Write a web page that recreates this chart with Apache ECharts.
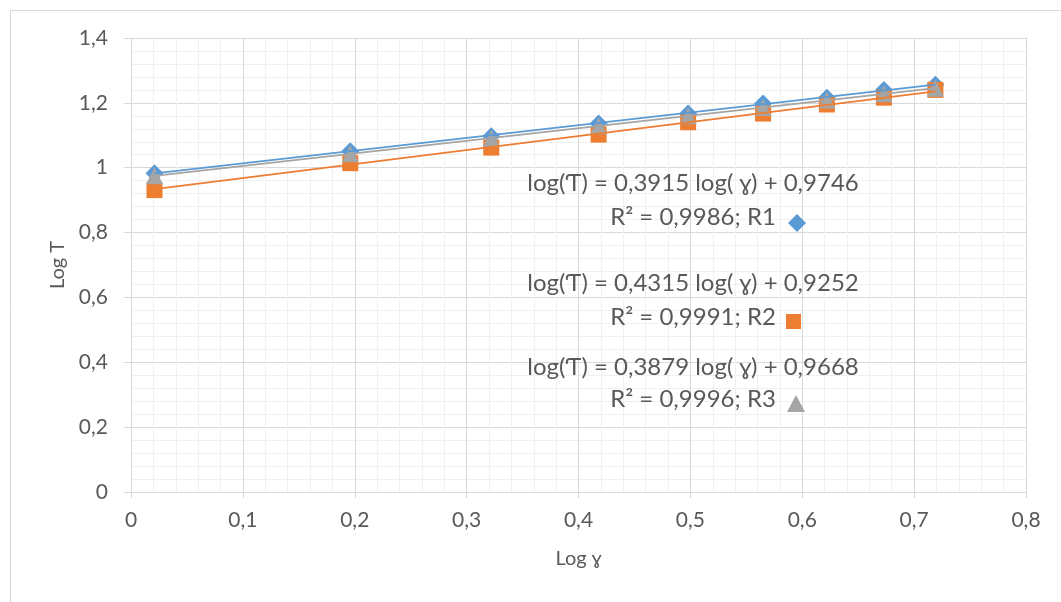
<!DOCTYPE html>
<html>
<head>
<meta charset="utf-8">
<script src="https://cdn.jsdelivr.net/npm/echarts@6/dist/echarts.min.js"></script>
<style>
html,body{margin:0;padding:0;background:#fff;}
#chart{width:1061px;height:602px;}
</style>
</head>
<body>
<div id="chart"></div>
<script>
// ---- data ----
const logShear = [0.021, 0.196, 0.322, 0.418, 0.498, 0.565, 0.622, 0.673, 0.719];
const r1Values = [0.983, 1.051, 1.097, 1.136, 1.167, 1.198, 1.216, 1.240, 1.256];
const r2Values = [0.931, 1.014, 1.062, 1.102, 1.140, 1.167, 1.195, 1.216, 1.240];
const r3Values = [0.975, 1.043, 1.091, 1.129, 1.160, 1.186, 1.209, 1.228, 1.245];
const seriesNames = ['R1', 'R2', 'R3'];
const slopes = [0.3915, 0.4315, 0.3879];
const intercepts = [0.9746, 0.9252, 0.9668];
const eqTexts = [
  'log(\u01AC) = 0,3915 log( \u0263) + 0,9746',
  'log(\u01AC) = 0,4315 log( \u0263) + 0,9252',
  'log(\u01AC) = 0,3879 log( \u0263) + 0,9668'
];
const r2Texts = ['R\u00B2 = 0,9986; R1', 'R\u00B2 = 0,9991; R2', 'R\u00B2 = 0,9996; R3'];
const xAxisTitle = 'Log \u0263';
const yAxisTitle = 'Log T';

const colors = ['#5B9BD5', '#ED7D31', '#A5A5A5'];
const symbols = ['diamond', 'rect', 'triangle'];
const symbolSizes = [18, 16, 17];
const FONT = 'Lato, "Noto Sans", sans-serif';
const TXT = '#595959';

const allValues = [r1Values, r2Values, r3Values];
const fmt = v => String(+v.toFixed(2)).replace('.', ',');

const series = [];
allValues.forEach((vals, i) => {
  series.push({
    name: seriesNames[i],
    type: 'scatter',
    symbol: symbols[i],
    symbolSize: symbolSizes[i],
    itemStyle: { color: colors[i], opacity: 1 },
    data: logShear.map((x, k) => [x, vals[k]]),
    z: 2 + i
  });
});
allValues.forEach((vals, i) => {
  const x0 = logShear[0], x1 = logShear[logShear.length - 1];
  series.push({
    name: seriesNames[i] + ' trend',
    type: 'line',
    showSymbol: false,
    symbol: 'none',
    lineStyle: { color: colors[i], width: 1.8 },
    data: [[x0, intercepts[i] + slopes[i] * x0], [x1, intercepts[i] + slopes[i] * x1]],
    z: 10 + i,
    silent: true
  });
});

// legend icons only (texts drawn as graphic texts)
const legendPos = [[788, 214], [786, 314], [787, 395]];
const legendSizes = [[18, 18], [15, 15], [18, 17]];
const legends = seriesNames.map((n, i) => ({
  data: [n],
  left: legendPos[i][0],
  top: legendPos[i][1],
  padding: 0,
  align: 'left',
  itemWidth: legendSizes[i][0],
  itemHeight: legendSizes[i][1],
  selectedMode: false,
  formatter: () => '',
  textStyle: { fontSize: 8, lineHeight: 8 }
}));

const textX = 693;
const eqY = [183, 283, 367];
const r2Y = [217, 317, 399];
const graphics = [
  { type: 'rect', left: 8, top: 8, shape: { x: 0, y: 0, width: 1200, height: 700 },
    style: { fill: 'none', stroke: '#d9d9d9', lineWidth: 1 }, silent: true, z: -10 }
];
eqTexts.forEach((t, i) => {
  graphics.push({
    type: 'text', x: textX, y: eqY[i], silent: true, z: 20,
    style: { text: t, fontFamily: FONT, fontSize: 24, fill: TXT, align: 'center', verticalAlign: 'middle' }
  });
  graphics.push({
    type: 'text', x: textX, y: r2Y[i], silent: true, z: 20,
    style: { text: r2Texts[i], fontFamily: FONT, fontSize: 24, fill: TXT, align: 'center', verticalAlign: 'middle' }
  });
});

const chart = echarts.init(document.getElementById('chart'), null, { renderer: 'canvas' });
chart.setOption({
  animation: false,
  backgroundColor: '#fff',
  grid: { left: 131, right: 35, top: 38, bottom: 110 },
  xAxis: {
    type: 'value', min: 0, max: 0.8, interval: 0.1,
    name: xAxisTitle, nameLocation: 'middle', nameGap: 57,
    nameTextStyle: { fontFamily: FONT, fontSize: 20, color: TXT },
    axisLine: { show: true, lineStyle: { color: '#d9d9d9', width: 1 } },
    axisTick: { show: true, length: 6, lineStyle: { color: '#d9d9d9' } },
    axisLabel: { fontFamily: FONT, fontSize: 21, color: TXT, margin: 18, formatter: fmt },
    splitLine: { show: true, lineStyle: { color: '#d9d9d9', width: 1 } },
    minorTick: { show: false, splitNumber: 5 },
    minorSplitLine: { show: true, lineStyle: { color: '#f0f0f0', width: 1 } }
  },
  yAxis: {
    type: 'value', min: 0, max: 1.4, interval: 0.2,
    name: yAxisTitle, nameLocation: 'middle', nameGap: 61, nameRotate: 90,
    nameTextStyle: { fontFamily: FONT, fontSize: 20, color: TXT },
    axisLine: { show: false },
    axisTick: { show: true, length: 7, lineStyle: { color: '#d9d9d9' } },
    axisLabel: { fontFamily: FONT, fontSize: 21, color: TXT, margin: 23, formatter: fmt },
    splitLine: { show: true, lineStyle: { color: '#d9d9d9', width: 1 } },
    minorTick: { show: false, splitNumber: 5 },
    minorSplitLine: { show: true, lineStyle: { color: '#f0f0f0', width: 1 } }
  },
  legend: legends,
  graphic: graphics,
  series: series
});
</script>
</body>
</html>
